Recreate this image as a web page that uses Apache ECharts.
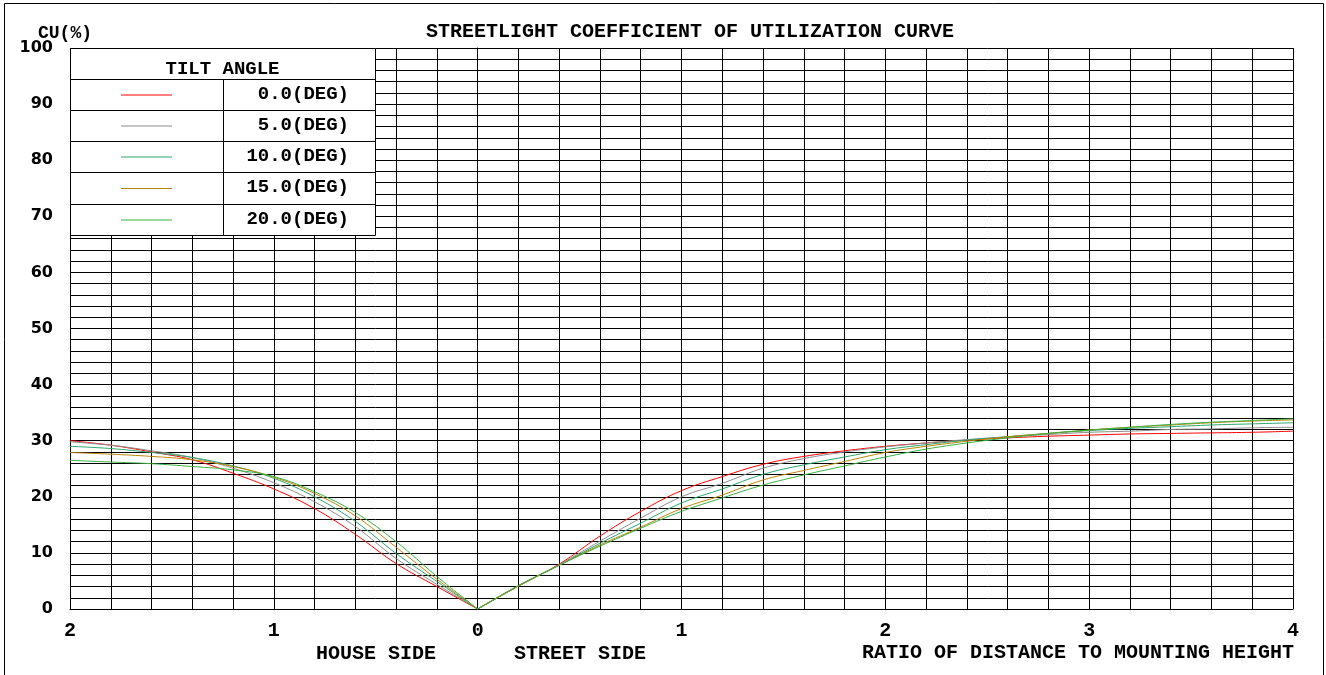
<!DOCTYPE html>
<html>
<head>
<meta charset="utf-8">
<script src="https://cdn.jsdelivr.net/npm/echarts@6/dist/echarts.min.js"></script>
<style>
html,body{margin:0;padding:0;background:#fff;}
#chart{width:1326px;height:675px;}
</style>
</head>
<body>
<div id="chart"></div>
<script>
// ---- data ----
const tiltLabels = ['0.0(DEG)', '5.0(DEG)', '10.0(DEG)', '15.0(DEG)', '20.0(DEG)'];
const houseX  = [-2, -1.8, -1.6, -1.4, -1.2, -1.0, -0.8, -0.6, -0.4, -0.2, 0];
const streetX = [0, 0.2, 0.4, 0.6, 0.8, 1.0, 1.2, 1.4, 1.6, 1.8, 2.0, 2.2, 2.4, 2.6, 2.8, 3.0, 3.2, 3.4, 3.6, 3.8, 4.0];

const house00 = [30.0, 29.2, 28.0, 26.6, 24.2, 21.4, 17.9, 13.3, 8.1, 4.0, 0];
const house05 = [29.8, 29.2, 28.2, 27.0, 25.1, 22.5, 19.1, 14.7, 9.0, 4.4, 0];
const house10 = [29.0, 28.6, 27.9, 27.0, 25.5, 23.3, 20.0, 15.6, 9.9, 4.9, 0];
const house15 = [27.9, 27.6, 27.2, 26.6, 25.4, 23.5, 20.6, 16.6, 11.0, 5.3, 0];
const house20 = [26.5, 26.2, 25.9, 25.4, 24.8, 23.6, 20.9, 17.2, 12.0, 5.8, 0];

const street00 = [0, 4.1, 8.0, 13.0, 17.4, 21.1, 23.6, 25.8, 27.2, 28.2, 29.0, 29.6, 30.1, 30.5, 30.8, 31.0, 31.2, 31.3, 31.4, 31.5, 31.7];
const street05 = [0, 4.1, 7.9, 12.1, 16.2, 20.0, 22.4, 25.1, 26.8, 28.0, 28.9, 29.6, 30.2, 30.7, 31.1, 31.5, 31.7, 32.0, 32.1, 32.3, 32.4];
const street10 = [0, 4.1, 7.8, 11.7, 15.3, 18.9, 21.4, 24.0, 25.7, 27.1, 28.4, 29.3, 30.1, 30.7, 31.3, 31.8, 32.2, 32.5, 32.8, 33.0, 33.2];
const street15 = [0, 4.1, 7.8, 11.4, 14.6, 17.9, 20.3, 23.0, 24.7, 26.3, 27.9, 29.0, 29.9, 30.7, 31.3, 31.9, 32.4, 32.8, 33.2, 33.5, 33.7];
const street20 = [0, 4.2, 7.8, 11.2, 14.4, 17.4, 19.8, 22.1, 23.9, 25.5, 27.1, 28.5, 29.6, 30.5, 31.3, 31.9, 32.4, 32.9, 33.3, 33.6, 33.9];

const houseSets  = [house00, house05, house10, house15, house20];
const streetSets = [street00, street05, street10, street15, street20];

// ---- styles ----
const colors = ['#ff0000', '#8c8c8c', '#2ca56c', '#b8860b', '#3cb043'];
const mono = '"Liberation Mono", "Courier New", monospace';
const sans = '"DejaVu Sans", Verdana, sans-serif';

const pair = (xs, ys) => xs.map((x, i) => [x, ys[i]]);

const series = [];
for (let k = 0; k < tiltLabels.length; k++) {
  ['house', 'street'].forEach(side => {
    series.push({
      name: tiltLabels[k],
      type: 'line',
      smooth: 0.4,
      symbol: 'none',
      silent: true,
      z: 5,
      lineStyle: { color: colors[k], width: 1 },
      data: side === 'house' ? pair(houseX, houseSets[k]) : pair(streetX, streetSets[k])
    });
  });
}

// legend table as graphics
const legX = 70, legR = 375, legTop = 48, colX = 223;
const rowB = [48, 79, 110, 141, 172, 204, 235];
const legendEls = [
  { type: 'rect', z: 100, silent: true, shape: { x: legX + 0.5, y: legTop + 0.5, width: legR - legX, height: rowB[6] - legTop }, style: { fill: '#fff', stroke: '#000', lineWidth: 1 } },
  { type: 'text', z: 102, silent: true, style: { x: (legX + legR) / 2, y: 69, text: 'TILT ANGLE', font: 'bold 19px ' + mono, fill: '#000', align: 'center', verticalAlign: 'middle' } },
  { type: 'line', z: 101, silent: true, shape: { x1: colX + 0.5, y1: rowB[1], x2: colX + 0.5, y2: rowB[6] }, style: { stroke: '#000', lineWidth: 1 } }
];
for (let i = 1; i < 6; i++) {
  legendEls.push({ type: 'line', z: 101, silent: true, shape: { x1: legX, y1: rowB[i] + 0.5, x2: legR, y2: rowB[i] + 0.5 }, style: { stroke: '#000', lineWidth: 1 } });
}
for (let k = 0; k < tiltLabels.length; k++) {
  const cy = (rowB[k + 1] + rowB[k + 2]) / 2;
  legendEls.push({ type: 'line', z: 101, silent: true, shape: { x1: 121, y1: cy + 0.5, x2: 172, y2: cy + 0.5 }, style: { stroke: colors[k], lineWidth: 1 } });
  legendEls.push({ type: 'text', z: 102, silent: true, style: { x: 349, y: cy - 0.5, text: tiltLabels[k], font: 'bold 19px ' + mono, fill: '#000', align: 'right', verticalAlign: 'middle' } });
}

const chart = echarts.init(document.getElementById('chart'), null, { renderer: 'canvas' });
chart.setOption({
  animation: false,
  backgroundColor: '#fff',
  grid: { left: 70, right: 33, top: 48, bottom: 66, containLabel: false },
  xAxis: {
    type: 'value', min: -2, max: 4, interval: 1,
    axisLine: { show: true, lineStyle: { color: '#000', width: 1 } },
    axisTick: { show: false },
    minorTick: { show: false, splitNumber: 5 },
    splitLine: { show: true, lineStyle: { color: '#000', width: 1 } },
    minorSplitLine: { show: true, lineStyle: { color: '#000', width: 1 } },
    axisLabel: { formatter: v => String(Math.abs(v)), color: '#000', fontFamily: mono, fontWeight: 'bold', fontSize: 20, margin: 12 }
  },
  yAxis: {
    type: 'value', min: 0, max: 100, interval: 10,
    axisLine: { show: true, lineStyle: { color: '#000', width: 1 } },
    axisTick: { show: false },
    minorTick: { show: false, splitNumber: 5 },
    splitLine: { show: true, lineStyle: { color: '#000', width: 1 } },
    minorSplitLine: { show: true, lineStyle: { color: '#000', width: 1 } },
    axisLabel: { color: '#000', fontFamily: sans, fontWeight: 'bold', fontSize: 16, margin: 17 }
  },
  series: series,
  graphic: [
    { type: 'rect', silent: true, z: 100, shape: { x: 4.5, y: 3.5, width: 1319, height: 700 }, style: { fill: 'none', stroke: '#000', lineWidth: 1 } },
    { type: 'text', z: 100, style: { x: 690, y: 32, text: 'STREETLIGHT COEFFICIENT OF UTILIZATION CURVE', font: 'bold 20px ' + mono, fill: '#000', align: 'center', verticalAlign: 'middle' } },
    { type: 'text', z: 100, style: { x: 65, y: 33, text: 'CU(%)', font: 'bold 18px ' + mono, fill: '#000', align: 'center', verticalAlign: 'middle' } },
    { type: 'text', z: 100, style: { x: 376, y: 654, text: 'HOUSE SIDE', font: 'bold 20px ' + mono, fill: '#000', align: 'center', verticalAlign: 'middle' } },
    { type: 'text', z: 100, style: { x: 580, y: 654, text: 'STREET SIDE', font: 'bold 20px ' + mono, fill: '#000', align: 'center', verticalAlign: 'middle' } },
    { type: 'text', z: 100, style: { x: 1294, y: 653, text: 'RATIO OF DISTANCE TO MOUNTING HEIGHT', font: 'bold 20px ' + mono, fill: '#000', align: 'right', verticalAlign: 'middle' } }
  ].concat(legendEls)
});
</script>
</body>
</html>
